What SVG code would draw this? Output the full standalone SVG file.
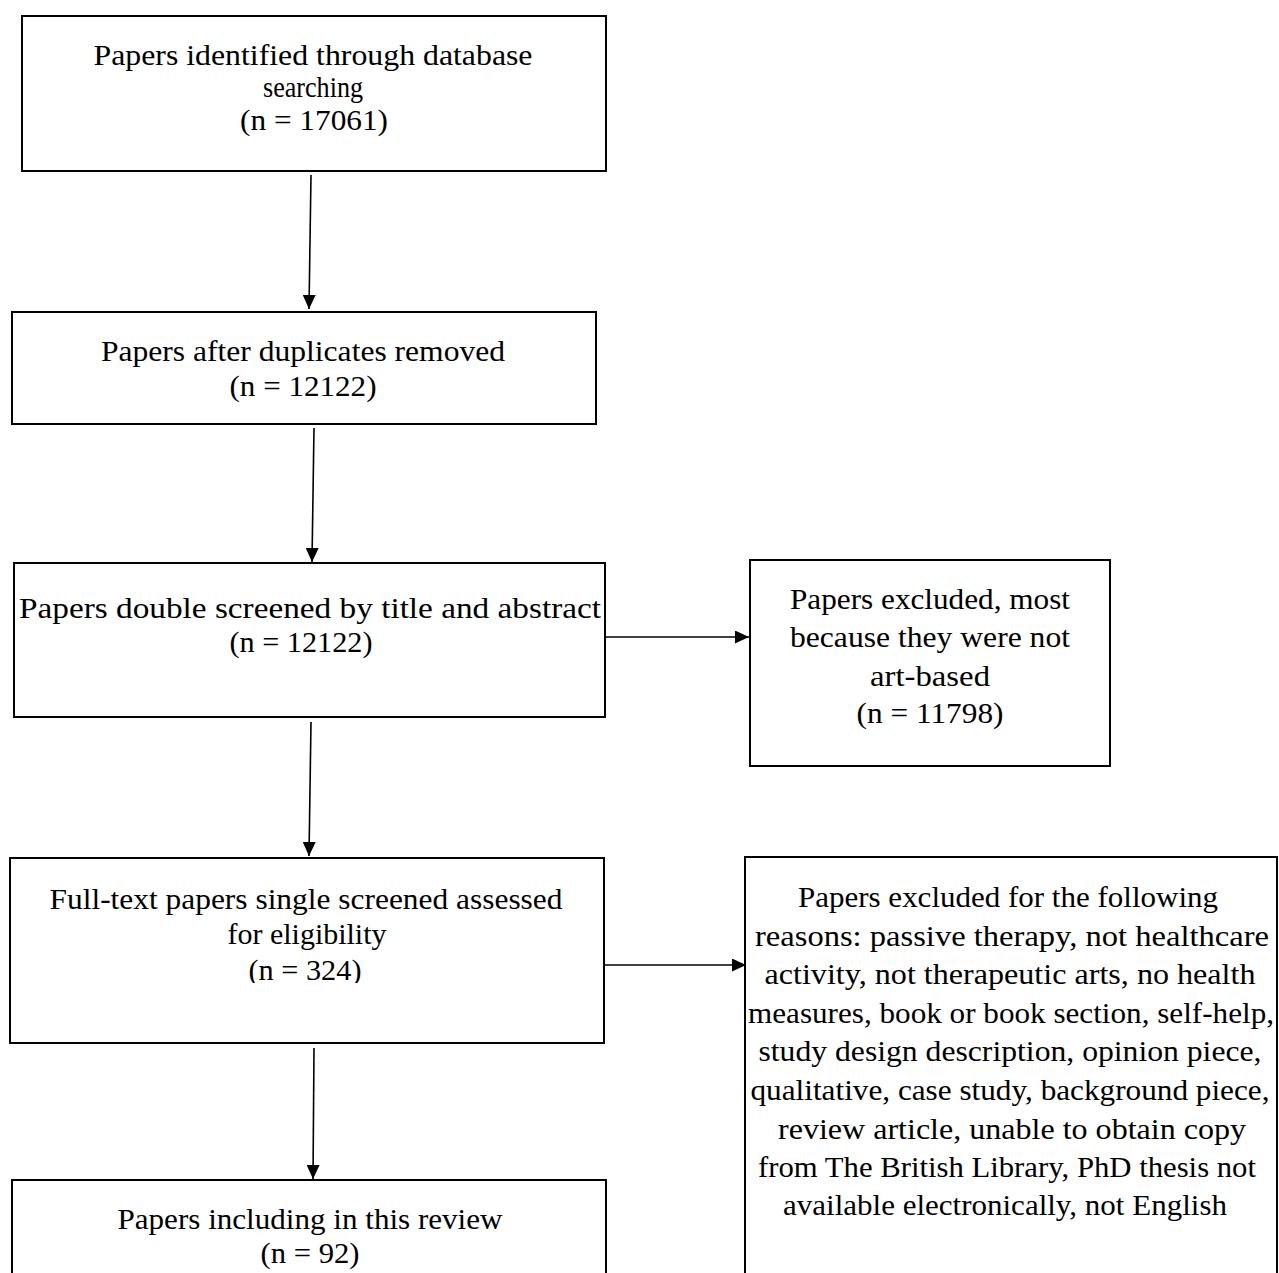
<svg xmlns="http://www.w3.org/2000/svg" width="1279" height="1273" viewBox="0 0 1279 1273">
<defs>
<marker id="ah" markerWidth="14" markerHeight="13" refX="14" refY="6.5" orient="auto" markerUnits="userSpaceOnUse" viewBox="0 0 14 13">
<path d="M0,0 L14,6.5 L0,13 Z" fill="#000"/>
</marker>
<clipPath id="clip324"><rect x="0" y="850" width="620" height="133"/></clipPath>
<style>
.box{fill:#fff;stroke:#000;stroke-width:2}
.t{font-family:"Liberation Serif","DejaVu Serif",serif;font-size:30px;fill:#000;text-anchor:middle}
.c{stroke:#000;stroke-width:1.6;fill:none;marker-end:url(#ah)}
</style>
</defs>
<rect width="1279" height="1273" fill="#fff"/>
<g id="connectors">
<line class="c" x1="311" y1="175" x2="309" y2="309"/>
<line class="c" x1="314" y1="428" x2="312" y2="562"/>
<line class="c" x1="605" y1="637" x2="749" y2="637"/>
<line class="c" x1="311" y1="722" x2="309" y2="856"/>
<line class="c" x1="604" y1="965" x2="746" y2="965"/>
<line class="c" x1="314" y1="1048" x2="313" y2="1179"/>
</g>
<g id="n1">
<rect class="box" x="22" y="16" width="584" height="155"/>
<text class="t" x="313" y="65" textLength="439" lengthAdjust="spacingAndGlyphs">Papers identified through database</text>
<text class="t" x="313" y="97" textLength="100" lengthAdjust="spacingAndGlyphs">searching</text>
<text class="t" x="314" y="130" textLength="148" lengthAdjust="spacingAndGlyphs">(n = 17061)</text>
</g>
<g id="n2">
<rect class="box" x="12" y="312" width="584" height="112"/>
<text class="t" x="303" y="361" textLength="404" lengthAdjust="spacingAndGlyphs">Papers after duplicates removed</text>
<text class="t" x="303" y="396" textLength="147" lengthAdjust="spacingAndGlyphs">(n = 12122)</text>
</g>
<g id="n3">
<rect class="box" x="14" y="563" width="591" height="154"/>
<text class="t" x="310" y="618" textLength="582" lengthAdjust="spacingAndGlyphs">Papers double screened by title and abstract</text>
<text class="t" x="301" y="652" textLength="143" lengthAdjust="spacingAndGlyphs">(n = 12122)</text>
</g>
<g id="n4">
<rect class="box" x="750" y="560" width="360" height="206"/>
<text class="t" x="930" y="609" textLength="280" lengthAdjust="spacingAndGlyphs">Papers excluded, most</text>
<text class="t" x="930" y="647" textLength="280" lengthAdjust="spacingAndGlyphs">because they were not</text>
<text class="t" x="930" y="686" textLength="120" lengthAdjust="spacingAndGlyphs">art-based</text>
<text class="t" x="930" y="723" textLength="147" lengthAdjust="spacingAndGlyphs">(n = 11798)</text>
</g>
<g id="n5">
<rect class="box" x="10" y="858" width="594" height="185"/>
<text class="t" x="306" y="909" textLength="513" lengthAdjust="spacingAndGlyphs">Full-text papers single screened assessed</text>
<text class="t" x="307" y="944" textLength="159" lengthAdjust="spacingAndGlyphs">for eligibility</text>
<text class="t" x="305" y="980" textLength="113" lengthAdjust="spacingAndGlyphs" clip-path="url(#clip324)">(n = 324)</text>
</g>
<g id="n6">
<rect class="box" x="745" y="857" width="532" height="430"/>
<text class="t" x="1008" y="907" textLength="420" lengthAdjust="spacingAndGlyphs">Papers excluded for the following</text>
<text class="t" x="1012" y="946" textLength="514" lengthAdjust="spacingAndGlyphs">reasons: passive therapy, not healthcare</text>
<text class="t" x="1010" y="984" textLength="491" lengthAdjust="spacingAndGlyphs">activity, not therapeutic arts, no health</text>
<text class="t" x="1011" y="1023" textLength="526" lengthAdjust="spacingAndGlyphs">measures, book or book section, self-help,</text>
<text class="t" x="1010" y="1061" textLength="503" lengthAdjust="spacingAndGlyphs">study design description, opinion piece,</text>
<text class="t" x="1010" y="1100" textLength="519" lengthAdjust="spacingAndGlyphs">qualitative, case study, background piece,</text>
<text class="t" x="1012" y="1139" textLength="468" lengthAdjust="spacingAndGlyphs">review article, unable to obtain copy</text>
<text class="t" x="1007" y="1177" textLength="498" lengthAdjust="spacingAndGlyphs">from The British Library, PhD thesis not</text>
<text class="t" x="1005" y="1215" textLength="444" lengthAdjust="spacingAndGlyphs">available electronically, not English</text>
</g>
<g id="n7">
<rect class="box" x="12" y="1180" width="594" height="110"/>
<text class="t" x="310" y="1229" textLength="385" lengthAdjust="spacingAndGlyphs">Papers including in this review</text>
<text class="t" x="310" y="1263" textLength="99" lengthAdjust="spacingAndGlyphs">(n = 92)</text>
</g>
</svg>
